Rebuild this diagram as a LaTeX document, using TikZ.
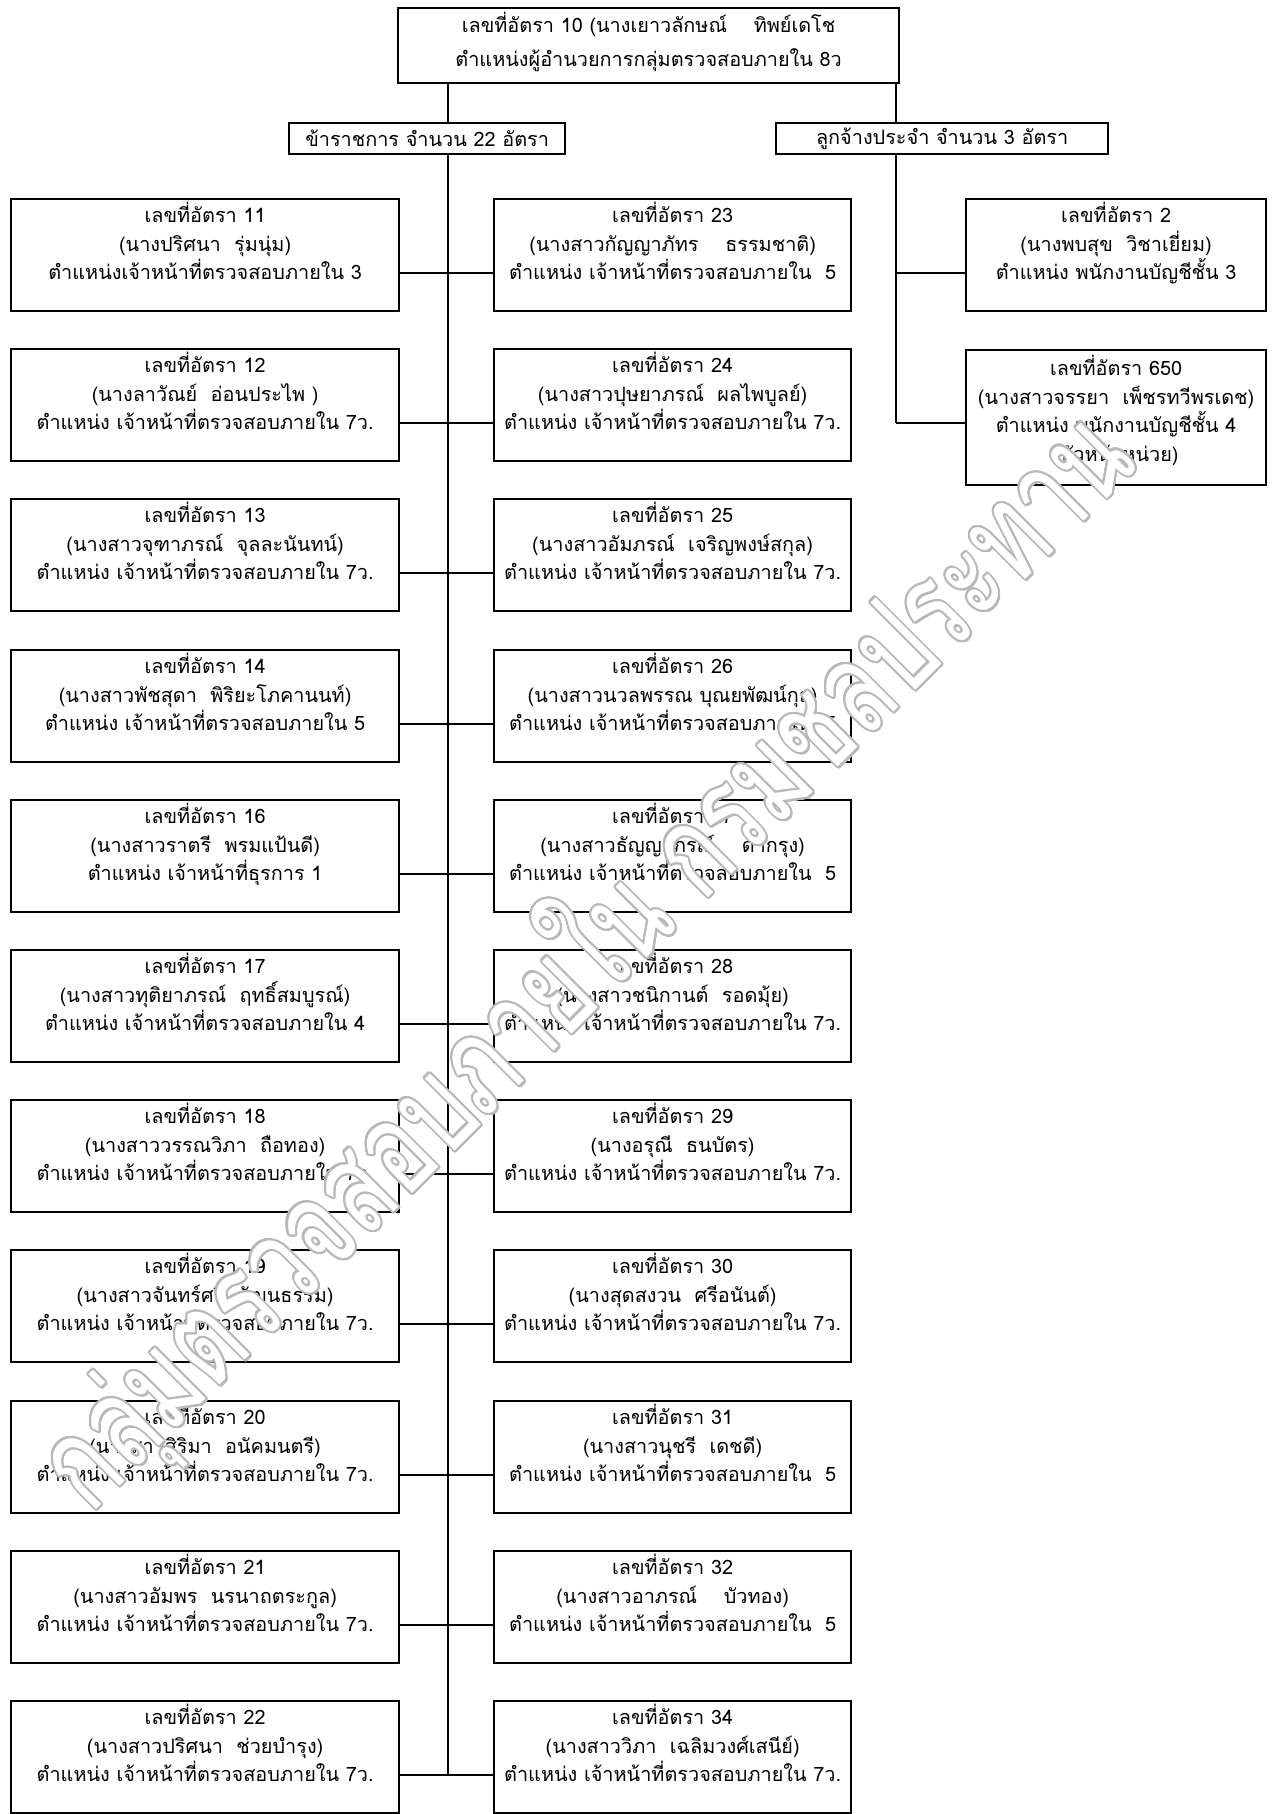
\documentclass[tikz,border=0pt]{standalone}
\usepackage{fontspec}
\usepackage{graphicx}
\usepackage{contour}
\newfontfamily\thaifont[Script=Thai]{Loma}
\usetikzlibrary{positioning}
\contourlength{1.1pt}
\contournumber{24}

\begin{document}
\begin{tikzpicture}[x = 0.02cm, y = -0.02cm,
    frame/.style = {draw, line width = 1.3pt, anchor = north west, align = center,
      inner sep = 0pt, font = \thaifont\fontsize{11.3}{16.2}\selectfont},
    box/.style = {frame, text depth = 16pt, minimum height = 2.24cm},
    sidebox/.style = {box, minimum width = 7.76cm},
    midbox/.style = {box, minimum width = 7.14cm},
    farbox/.style = {box, minimum width = 6cm},
    spine/.style = {line width = 0.8pt},
    link/.style = {line width = 1.3pt}]
    \useasboundingbox (0, 0) rectangle (1271, 1814);

    % head and the two groups
    \node [frame, minimum width = 10.02cm, minimum height = 1.5cm, text depth = 7pt,
      font = \thaifont\fontsize{11.3}{19.5}\selectfont] (director) at (397, 7)
      {เลขที่อัตรา 10 (นางเยาวลักษณ์~ ~ ทิพย์เดโช\\ตำแหน่งผู้อำนวยการกลุ่มตรวจสอบภายใน 8ว};
    \node [frame, minimum width = 5.52cm, minimum height = 0.62cm] (civil) at (288, 122)
      {ข้าราชการ จำนวน 22 อัตรา};
    \node [frame, minimum width = 6.64cm, minimum height = 0.62cm] (staff) at (775, 122)
      {ลูกจ้างประจำ จำนวน 3 อัตรา};

    \coordinate (civilspine) at ([xshift = 0.42cm]civil.south);
    \coordinate (staffspine) at ([xshift = -0.92cm]staff.south);

    % left column
    \node [sidebox] (b11) at (10, 198) {เลขที่อัตรา 11\\(นางปริศนา~ รุ่มนุ่ม)\\ตำแหน่งเจ้าหน้าที่ตรวจสอบภายใน 3};
    \node [sidebox] (b12) at (10, 348) {เลขที่อัตรา 12\\(นางลาวัณย์~ อ่อนประไพ )\\ตำแหน่ง เจ้าหน้าที่ตรวจสอบภายใน 7ว.};
    \node [sidebox] (b13) at (10, 498) {เลขที่อัตรา 13\\(นางสาวจุฑาภรณ์~ จุลละนันทน์)\\ตำแหน่ง เจ้าหน้าที่ตรวจสอบภายใน 7ว.};
    \node [sidebox] (b14) at (10, 649) {เลขที่อัตรา 14\\(นางสาวพัชสุดา~ พิริยะโภคานนท์)\\ตำแหน่ง เจ้าหน้าที่ตรวจสอบภายใน 5};
    \node [sidebox] (b16) at (10, 799) {เลขที่อัตรา 16\\(นางสาวราตรี~ พรมแป้นดี)\\ตำแหน่ง เจ้าหน้าที่ธุรการ 1};
    \node [sidebox] (b17) at (10, 949) {เลขที่อัตรา 17\\(นางสาวทุติยาภรณ์~ ฤทธิ์สมบูรณ์)\\ตำแหน่ง เจ้าหน้าที่ตรวจสอบภายใน 4};
    \node [sidebox] (b18) at (10, 1099) {เลขที่อัตรา 18\\(นางสาววรรณวิภา~ ถือทอง)\\ตำแหน่ง เจ้าหน้าที่ตรวจสอบภายใน 7ว.};
    \node [sidebox] (b19) at (10, 1249) {เลขที่อัตรา 19\\(นางสาวจันทร์ศรี~ วัฒนธรรม)\\ตำแหน่ง เจ้าหน้าที่ตรวจสอบภายใน 7ว.};
    \node [sidebox] (b20) at (10, 1400) {เลขที่อัตรา 20\\(นางสาวสิริมา~ อนัคมนตรี)\\ตำแหน่ง เจ้าหน้าที่ตรวจสอบภายใน 7ว.};
    \node [sidebox] (b21) at (10, 1550) {เลขที่อัตรา 21\\(นางสาวอัมพร~ นรนาถตระกูล)\\ตำแหน่ง เจ้าหน้าที่ตรวจสอบภายใน 7ว.};
    \node [sidebox] (b22) at (10, 1700) {เลขที่อัตรา 22\\(นางสาวปริศนา~ ช่วยบำรุง)\\ตำแหน่ง เจ้าหน้าที่ตรวจสอบภายใน 7ว.};

    % middle column
    \node [midbox] (b23) at (493, 198) {เลขที่อัตรา 23\\(นางสาวกัญญาภัทร~ ~ ธรรมชาติ)\\ตำแหน่ง เจ้าหน้าที่ตรวจสอบภายใน~ 5};
    \node [midbox] (b24) at (493, 348) {เลขที่อัตรา 24\\(นางสาวปุษยาภรณ์~ ผลไพบูลย์)\\ตำแหน่ง เจ้าหน้าที่ตรวจสอบภายใน 7ว.};
    \node [midbox] (b25) at (493, 498) {เลขที่อัตรา 25\\(นางสาวอัมภรณ์~ เจริญพงษ์สกุล)\\ตำแหน่ง เจ้าหน้าที่ตรวจสอบภายใน 7ว.};
    \node [midbox] (b26) at (493, 649) {เลขที่อัตรา 26\\(นางสาวนวลพรรณ บุณยพัฒน์กุล)\\ตำแหน่ง เจ้าหน้าที่ตรวจสอบภายใน~ 5};
    \node [midbox] (b27) at (493, 799) {เลขที่อัตรา 27\\(นางสาวธัญญาภรณ์~ ~ ดากรุง)\\ตำแหน่ง เจ้าหน้าที่ตรวจสอบภายใน~ 5};
    \node [midbox] (b28) at (493, 949) {เลขที่อัตรา 28\\(นางสาวชนิกานต์~ รอดมุ้ย)\\ตำแหน่ง เจ้าหน้าที่ตรวจสอบภายใน 7ว.};
    \node [midbox] (b29) at (493, 1099) {เลขที่อัตรา 29\\(นางอรุณี~ ธนบัตร)\\ตำแหน่ง เจ้าหน้าที่ตรวจสอบภายใน 7ว.};
    \node [midbox] (b30) at (493, 1249) {เลขที่อัตรา 30\\(นางสุดสงวน~ ศรีอนันต์)\\ตำแหน่ง เจ้าหน้าที่ตรวจสอบภายใน 7ว.};
    \node [midbox] (b31) at (493, 1400) {เลขที่อัตรา 31\\(นางสาวนุชรี~ เดชดี)\\ตำแหน่ง เจ้าหน้าที่ตรวจสอบภายใน~ 5};
    \node [midbox] (b32) at (493, 1550) {เลขที่อัตรา 32\\(นางสาวอาภรณ์~ ~ บัวทอง)\\ตำแหน่ง เจ้าหน้าที่ตรวจสอบภายใน~ 5};
    \node [midbox] (b34) at (493, 1700) {เลขที่อัตรา 34\\(นางสาววิภา~ เฉลิมวงศ์เสนีย์)\\ตำแหน่ง เจ้าหน้าที่ตรวจสอบภายใน 7ว.};

    % right column
    \node [farbox] (b2) at (965, 198) {เลขที่อัตรา 2\\(นางพบสุข~ วิชาเยี่ยม)\\ตำแหน่ง พนักงานบัญชีชั้น 3};
    \node [farbox, minimum height = 2.7cm, text depth = 10.5pt] (b650) at (965, 349)
      {เลขที่อัตรา 650\\(นางสาวจรรยา~ เพ็ชรทวีพรเดช)\\ตำแหน่ง พนักงานบัญชีชั้น 4\\(หัวหน้าหน่วย)};

    % spines
    \draw [spine] (director.south -| civilspine) -- (civil.north -| civilspine);
    \draw [spine] (director.south -| staffspine) -- (staff.north -| staffspine);
    \coordinate (k22) at ([yshift = -0.36cm]b22.east);
    \draw [spine] (civilspine) -- (k22 -| civilspine);
    \coordinate (k650) at ([yshift = -0.11cm]b650.west);
    \draw [spine] (staffspine) -- (k650 -| staffspine);

    % links
    \draw [link] ([yshift = -0.36cm]b11.east) -- ([yshift = -0.36cm]b23.west);
    \draw [link] ([yshift = -0.36cm]b12.east) -- ([yshift = -0.36cm]b24.west);
    \draw [link] ([yshift = -0.36cm]b13.east) -- ([yshift = -0.36cm]b25.west);
    \draw [link] ([yshift = -0.36cm]b14.east) -- ([yshift = -0.36cm]b26.west);
    \draw [link] ([yshift = -0.36cm]b16.east) -- ([yshift = -0.36cm]b27.west);
    \draw [link] ([yshift = -0.36cm]b17.east) -- ([yshift = -0.36cm]b28.west);
    \draw [link] ([yshift = -0.36cm]b18.east) -- ([yshift = -0.36cm]b29.west);
    \draw [link] ([yshift = -0.36cm]b19.east) -- ([yshift = -0.36cm]b30.west);
    \draw [link] ([yshift = -0.36cm]b20.east) -- ([yshift = -0.36cm]b31.west);
    \draw [link] ([yshift = -0.36cm]b21.east) -- ([yshift = -0.36cm]b32.west);
    \draw [link] (k22) -- ([yshift = -0.36cm]b34.west);
    \coordinate (k2) at ([yshift = -0.36cm]b2.west);
    \draw [link] (k2 -| staffspine) -- (k2);
    \draw [link] (k650 -| staffspine) -- (k650);

    % watermark
    \node [rotate = 45, inner sep = 0pt] (mark) at (587, 962)
      {\resizebox{29.7cm}{!}{\scalebox{1}[1.4]{\thaifont\fontsize{60}{60}\selectfont
        \color{white}\contour{black!28}{กลุ่มตรวจสอบภายใน กรมชลประทาน}}}};
  \end{tikzpicture}
\end{document}
